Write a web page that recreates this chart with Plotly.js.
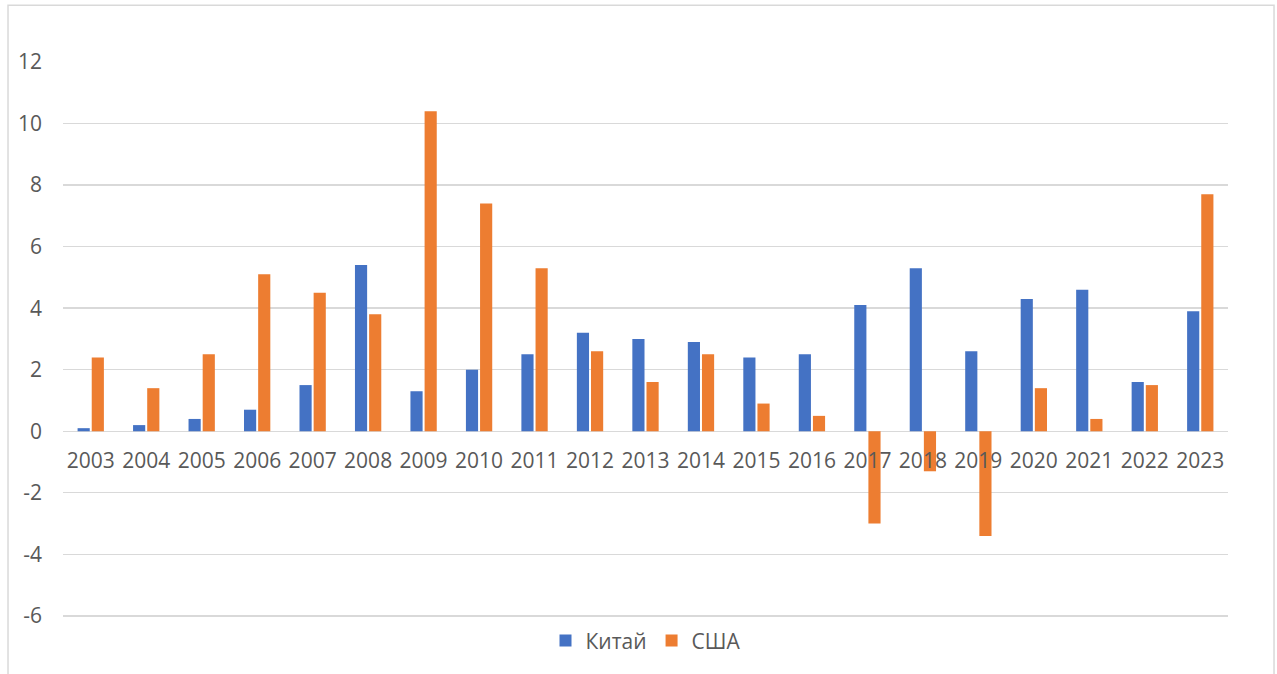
<!DOCTYPE html>
<html>
<head>
<meta charset="utf-8">
<script src="https://cdn.plot.ly/plotly-3.0.1.min.js"></script>
<style>
html,body{margin:0;padding:0;background:#fff;}
#chart{width:1277px;height:674px;}
</style>
</head>
<body>
<div id="chart"></div>
<script>
const years = ['2003','2004','2005','2006','2007','2008','2009','2010','2011','2012','2013','2014','2015','2016','2017','2018','2019','2020','2021','2022','2023'];
const china = [0.1,0.2,0.4,0.7,1.5,5.4,1.3,2.0,2.5,3.2,3.0,2.9,2.4,2.5,4.1,5.3,2.6,4.3,4.6,1.6,3.9];
const usa = [2.4,1.4,2.5,5.1,4.5,3.8,10.4,7.4,5.3,2.6,1.6,2.5,0.9,0.5,-3.0,-1.3,-3.4,1.4,0.4,1.5,7.7];
const yTicks = [-6,-4,-2,0,2,4,6,8,10,12];

const FONT = '"Open Sans", "Liberation Sans", sans-serif';
const yMin = -6.1, yMax = 12.03;
const traces = [
  {type:'bar', name:'Китай', x:years, y:china, marker:{color:'#4472C4'}},
  {type:'bar', name:'США', x:years, y:usa, marker:{color:'#ED7D31'}}
];
const layout = {
  width:1277, height:674,
  margin:{l:63, r:49, t:61, b:55, autoexpand:false},
  paper_bgcolor:'#fff', plot_bgcolor:'#fff',
  font:{family:FONT, size:21, color:'#595959'},
  barmode:'group', bargap:0.49, bargroupgap:0.14,
  showlegend:true,
  legend:{orientation:'h', x:0.5, xanchor:'center', yref:'container', y:0.049, yanchor:'middle',
          font:{size:21, color:'#595959'}, itemwidth:30, tracegroupgap:0},
  xaxis:{type:'category', anchor:'free', position:(0 - yMin)/(yMax - yMin), showline:false, showgrid:false,
         ticks:'', tickfont:{size:21, color:'#595959'}, zeroline:false, ticklabelstandoff:15},
  yaxis:{range:[yMin, yMax], tickvals:yTicks, ticktext:yTicks.map(String), showgrid:true,
         gridcolor:'#d9d9d9', gridwidth:1.3, zeroline:true, zerolinecolor:'#d9d9d9', zerolinewidth:1.3,
         showline:false, ticks:'', tickfont:{size:21, color:'#595959'}, ticklabelstandoff:20},
  shapes:[{type:'rect', xref:'paper', yref:'paper', x0:-0.0472, x1:1.0395, y0:-0.2, y1:1.1,
           line:{color:'#d9d9d9', width:1.5}, fillcolor:'rgba(0,0,0,0)', layer:'below'}]
};
Plotly.newPlot('chart', traces, layout, {displayModeBar:false, staticPlot:true});
</script>
</body>
</html>
